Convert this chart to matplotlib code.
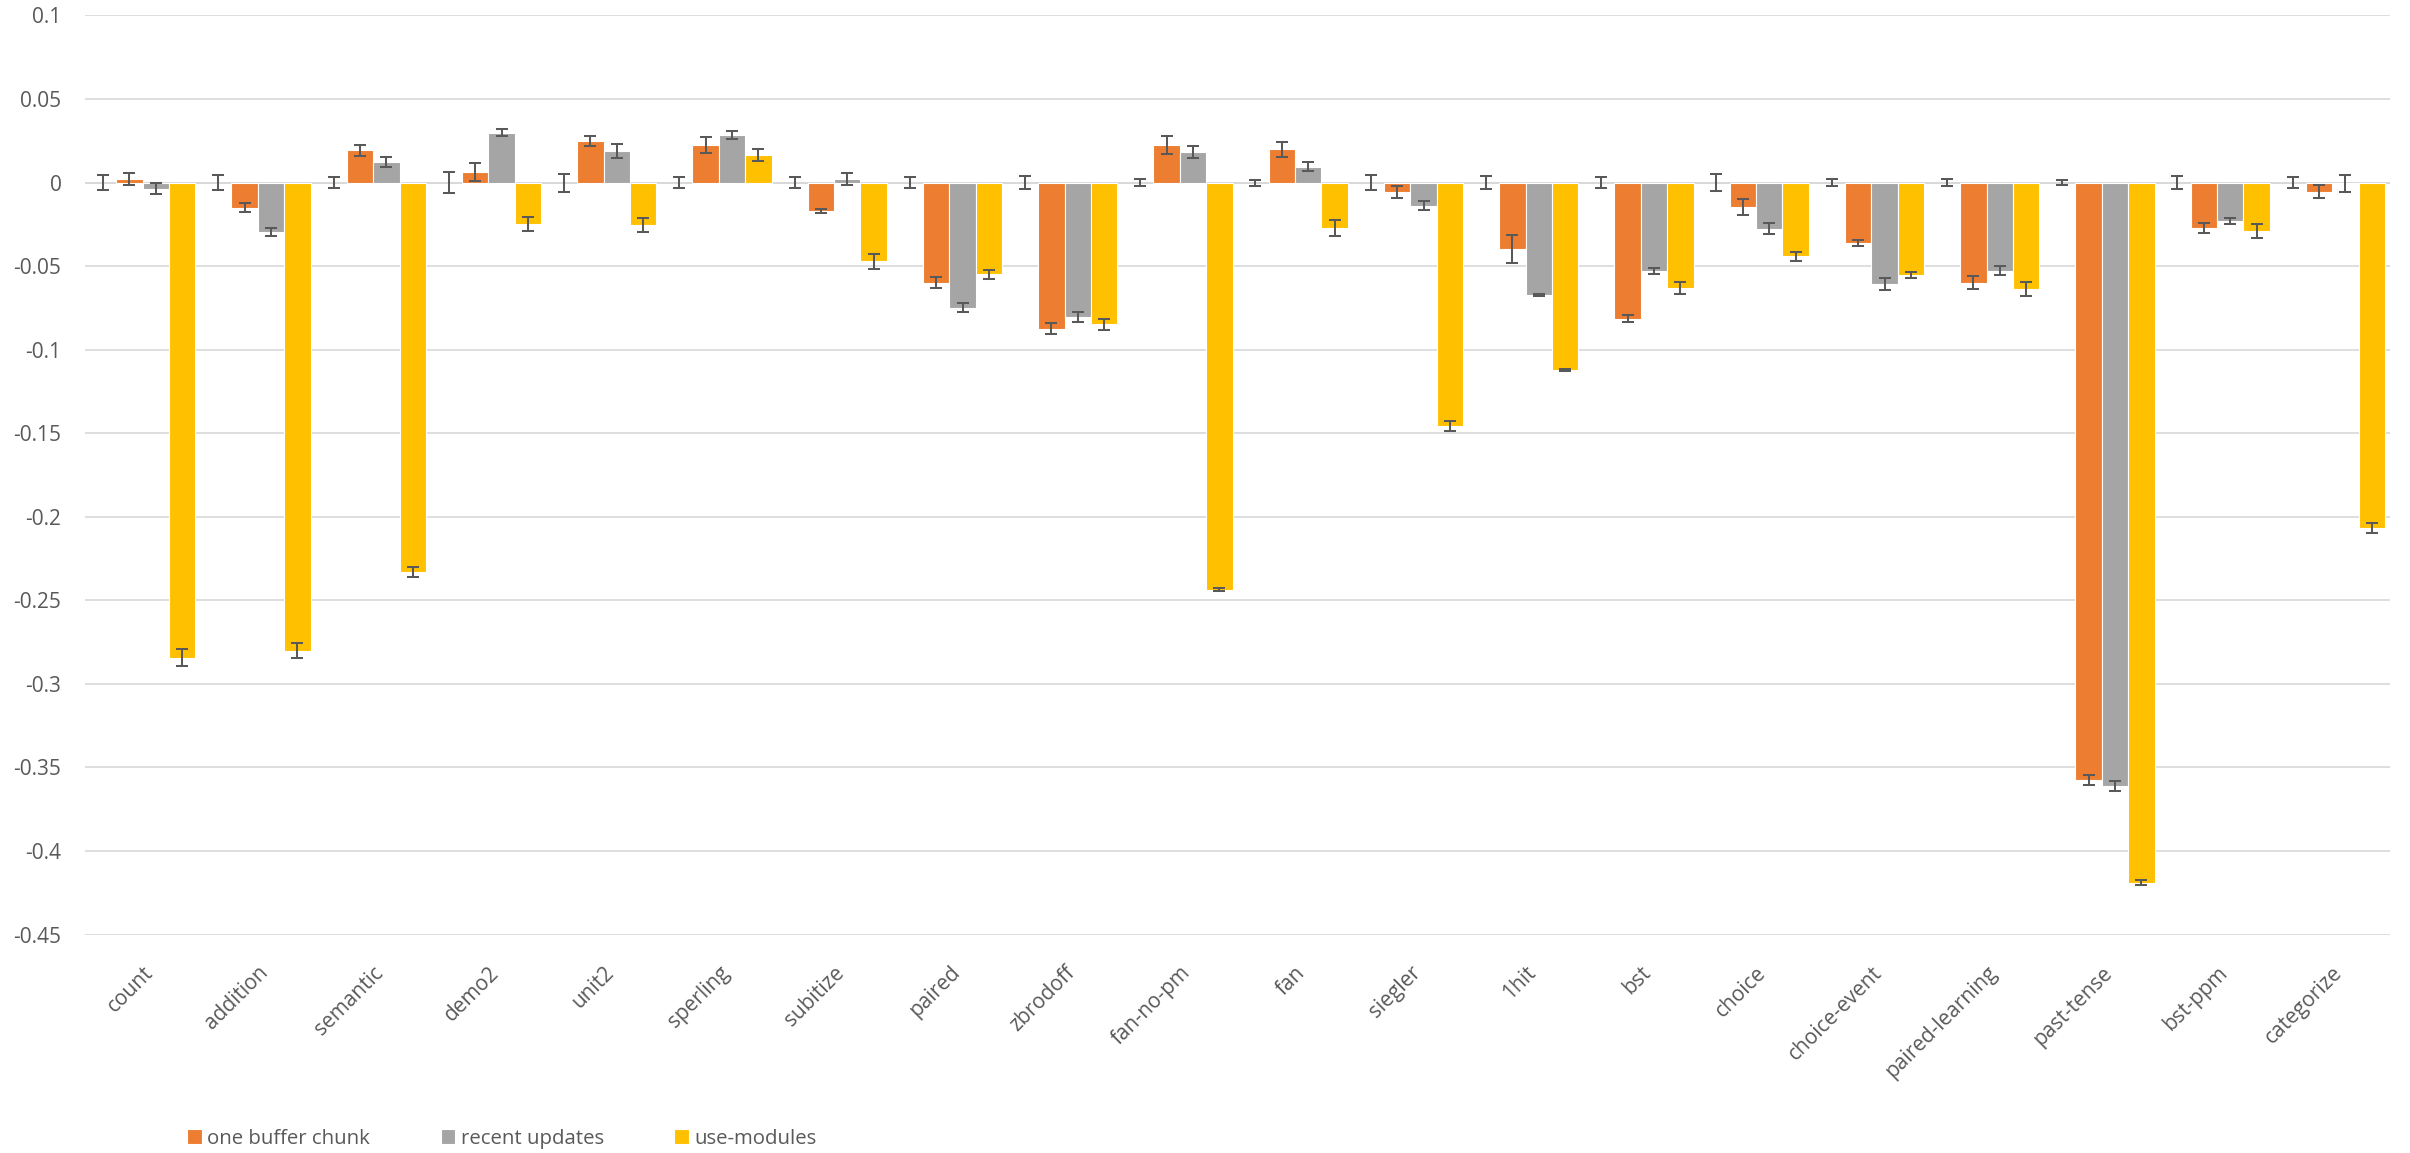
import matplotlib
matplotlib.use("Agg")
import matplotlib.pyplot as plt
import numpy as np

categories = ["count", "addition", "semantic", "demo2", "unit2", "sperling", "subitize",
              "paired", "zbrodoff", "fan-no-pm", "fan", "siegler", "1hit", "bst", "choice",
              "choice-event", "paired-learning", "past-tense", "bst-ppm", "categorize"]

baseline = [0.0] * 20
baseline_err = [0.0046, 0.0047, 0.0034, 0.0064, 0.0054, 0.0033, 0.0035, 0.0034, 0.0039, 0.0022,
                0.0018, 0.0046, 0.0040, 0.0035, 0.0050, 0.0020, 0.0019, 0.0015, 0.0040, 0.0034]

one_buffer_chunk = [0.0022, -0.0150, 0.0192, 0.0062, 0.0248, 0.0224, -0.0170, -0.0600, -0.0874, 0.0224,
                    0.0198, -0.0056, -0.0398, -0.0815, -0.0146, -0.0362, -0.0600, -0.3575, -0.0272, -0.0054]
one_buffer_chunk_err = [0.0036, 0.0026, 0.0035, 0.0054, 0.0028, 0.0050, 0.0012, 0.0033, 0.0034, 0.0052,
                        0.0043, 0.0034, 0.0086, 0.0020, 0.0048, 0.0020, 0.0040, 0.0030, 0.0030, 0.0039]

recent_updates = [-0.0036, -0.0296, 0.0124, 0.0298, 0.0188, 0.0286, 0.0020, -0.0750, -0.0806, 0.0182,
                  0.0094, -0.0138, -0.0674, -0.0530, -0.0276, -0.0608, -0.0528, -0.3610, -0.0232, -0.0006]
recent_updates_err = [0.0035, 0.0026, 0.0030, 0.0022, 0.0040, 0.0025, 0.0037, 0.0027, 0.0030, 0.0035,
                      0.0027, 0.0026, 0.0005, 0.0016, 0.0031, 0.0037, 0.0028, 0.0030, 0.0018, 0.0050]

use_modules = [-0.2843, -0.2803, -0.2330, -0.0248, -0.0254, 0.0164, -0.0470, -0.0550, -0.0848, -0.2436,
               -0.0272, -0.1456, -0.1120, -0.0632, -0.0442, -0.0554, -0.0638, -0.4190, -0.0290, -0.2068]
use_modules_err = [0.0050, 0.0045, 0.0030, 0.0041, 0.0043, 0.0035, 0.0045, 0.0026, 0.0033, 0.0010,
                   0.0048, 0.0031, 0.0006, 0.0035, 0.0027, 0.0018, 0.0040, 0.0015, 0.0041, 0.0030]

yticks = [0.1, 0.05, 0, -0.05, -0.1, -0.15, -0.2, -0.25, -0.3, -0.35, -0.4, -0.45]
ytick_labels = ["0.1", "0.05", "0", "-0.05", "-0.1", "-0.15", "-0.2", "-0.25", "-0.3", "-0.35", "-0.4", "-0.45"]

plt.rcParams['font.family'] = ['Open Sans', 'DejaVu Sans']
TXT = "#595959"

fig = plt.figure(figsize=(24.10, 11.53), dpi=100)
ax = fig.add_axes([0.03527, 0.1895, 0.9564, 0.7971])

x = np.arange(len(categories))
w = 0.229
err_kw = dict(ecolor="#595959", elinewidth=1.45, capsize=4.3, capthick=1.45)

series = [
    (baseline, baseline_err, "#4472C4", None),
    (one_buffer_chunk, one_buffer_chunk_err, "#ED7D31", "one buffer chunk"),
    (recent_updates, recent_updates_err, "#A5A5A5", "recent updates"),
    (use_modules, use_modules_err, "#FFC000", "use-modules"),
]
offsets = [-1.5, -0.5, 0.5, 1.5]
for (vals, errs, col, lab), off in zip(series, offsets):
    if lab is None:
        ax.errorbar(x + off * w, vals, yerr=errs, fmt='none', zorder=3, **err_kw)
    else:
        ax.bar(x + off * w, vals, w, color=col, edgecolor="white", linewidth=0.8,
               label=lab, yerr=errs, error_kw=err_kw, zorder=2)

ax.set_xlim(-0.5, len(categories) - 0.5)
ax.set_ylim(-0.45, 0.1)
ax.set_yticks(yticks)
ax.set_yticklabels(ytick_labels)
ax.yaxis.grid(True, color="#D9D9D9", linewidth=1.25)
ax.set_axisbelow(True)
for s in ax.spines.values():
    s.set_visible(False)
ax.axhline(0, color="#D9D9D9", linewidth=1.25, zorder=1)

ax.set_xticks(x)
ax.set_xticklabels(categories, rotation=45, ha='right', rotation_mode='anchor')
ax.tick_params(axis='x', length=0, pad=20, labelsize=15, labelcolor=TXT)
ax.tick_params(axis='y', length=0, pad=17, labelsize=15, labelcolor=TXT)

leg = fig.legend(loc='center left', bbox_to_anchor=(0.0700, 0.0125), ncol=3, frameon=False,
                 fontsize=14.7, handlelength=0.72, handleheight=0.72, handletextpad=0.27,
                 columnspacing=3.45, labelcolor=TXT)

fig.savefig("out.png", dpi=100)
